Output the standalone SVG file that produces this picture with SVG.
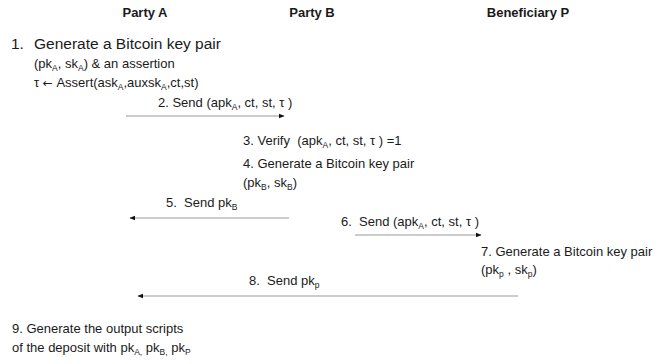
<svg xmlns="http://www.w3.org/2000/svg" width="667" height="364" viewBox="0 0 667 364">
  <defs>
    <style>
      text { font-family: "Liberation Sans", Arial, sans-serif; font-size: 13px; fill: #1a1a1a; white-space: pre; }
      .hdr { font-weight: bold; text-anchor: middle; }
      .big { font-size: 15.5px; }
      .sub { font-size: 8.5px; }
      .sym { font-family: "DejaVu Sans", sans-serif; font-size: 12px; }
      .msg { stroke: #9a9a9a; stroke-width: 1.2; fill: none; }
    </style>
    <marker id="arrow" viewBox="0 0 10 10" refX="9" refY="5" markerWidth="6" markerHeight="6" orient="auto" markerUnits="userSpaceOnUse">
      <path d="M0,1 L10,5 L0,9 z" fill="#111"/>
    </marker>
  </defs>

  <rect width="667" height="364" fill="#ffffff"/>

  <!-- participants -->
  <g id="party-a"><text class="hdr" x="145" y="17">Party A</text></g>
  <g id="party-b"><text class="hdr" x="312" y="17">Party B</text></g>
  <g id="beneficiary-p"><text class="hdr" x="528" y="17">Beneficiary P</text></g>

  <!-- step 1 (Party A) -->
  <g id="step1">
    <text class="big" x="11" y="49">1.</text>
    <text class="big" x="34" y="49">Generate a Bitcoin key pair</text>
    <text x="34" y="68">(pk<tspan class="sub" dy="3">A</tspan><tspan dy="-3">, sk</tspan><tspan class="sub" dy="3">A</tspan><tspan dy="-3">) &amp; an assertion</tspan></text>
    <text x="34" y="87">τ <tspan class="sym">←</tspan> Assert(ask<tspan class="sub" dy="3">A</tspan><tspan dy="-3">,auxsk</tspan><tspan class="sub" dy="3">A</tspan><tspan dy="-3">,ct,st)</tspan></text>
  </g>

  <!-- steps 3 and 4 (Party B) -->
  <g id="step3">
    <text x="243" y="145">3. Verify  (apk<tspan class="sub" dy="3">A</tspan><tspan dy="-3">, ct, st, τ ) =1</tspan></text>
  </g>
  <g id="step4">
    <text x="243" y="168">4. Generate a Bitcoin key pair</text>
    <text x="243" y="187">(pk<tspan class="sub" dy="3">B</tspan><tspan dy="-3">, sk</tspan><tspan class="sub" dy="3">B</tspan><tspan dy="-3">)</tspan></text>
  </g>

  <!-- step 7 (Beneficiary P) -->
  <g id="step7">
    <text x="481" y="256">7. Generate a Bitcoin key pair</text>
    <text x="481" y="274">(pk<tspan class="sub" dy="3">p</tspan><tspan dy="-3"> , sk</tspan><tspan class="sub" dy="3">p</tspan><tspan dy="-3">)</tspan></text>
  </g>

  <!-- step 9 (Party A) -->
  <g id="step9">
    <text x="12" y="333">9. Generate the output scripts</text>
    <text x="12" y="352">of the deposit with pk<tspan class="sub" dy="3">A,</tspan><tspan dy="-3"> pk</tspan><tspan class="sub" dy="3">B,</tspan><tspan dy="-3"> pk</tspan><tspan class="sub" dy="3">P</tspan></text>
  </g>

  <!-- messages -->
  <g id="connectors">
    <line class="msg" x1="126" y1="116" x2="284" y2="116" marker-end="url(#arrow)"/>
    <text x="158" y="107">2. Send (apk<tspan class="sub" dy="3">A</tspan><tspan dy="-3">, ct, st, τ )</tspan></text>

    <line class="msg" x1="289" y1="218" x2="130" y2="218" marker-end="url(#arrow)"/>
    <text x="166" y="207">5.  Send pk<tspan class="sub" dy="3">B</tspan></text>

    <line class="msg" x1="355" y1="235" x2="481" y2="235" marker-end="url(#arrow)"/>
    <text x="341" y="226">6.  Send (apk<tspan class="sub" dy="3">A</tspan><tspan dy="-3">, ct, st, τ )</tspan></text>

    <line class="msg" x1="518" y1="296" x2="138" y2="296" marker-end="url(#arrow)"/>
    <text x="249" y="285">8.  Send pk<tspan class="sub" dy="3">p</tspan></text>
  </g>
</svg>
